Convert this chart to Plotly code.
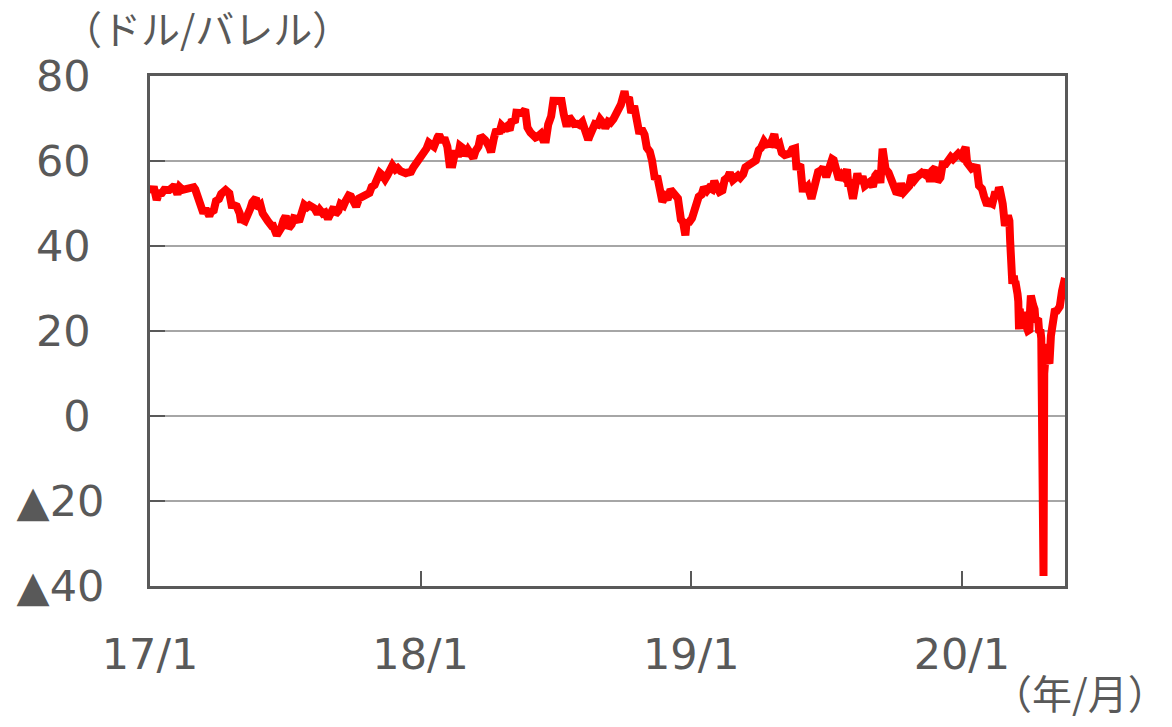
import plotly.graph_objects as go

# WTI crude oil futures price (USD/barrel), approximate readings
dates_2017 = ["2017-01-03","2017-01-06","2017-01-10","2017-01-13","2017-01-17","2017-01-20","2017-01-24","2017-01-27",
"2017-02-01","2017-02-03","2017-02-07","2017-02-10","2017-02-14","2017-02-17","2017-02-22","2017-02-24",
"2017-03-01","2017-03-03","2017-03-08","2017-03-10","2017-03-14","2017-03-17","2017-03-22","2017-03-24","2017-03-28","2017-03-31",
"2017-04-04","2017-04-07","2017-04-12","2017-04-13","2017-04-18","2017-04-21","2017-04-25","2017-04-28",
"2017-05-02","2017-05-04","2017-05-05","2017-05-09","2017-05-12","2017-05-16","2017-05-19","2017-05-24","2017-05-25","2017-05-30",
"2017-06-02","2017-06-07","2017-06-09","2017-06-14","2017-06-16","2017-06-21","2017-06-23","2017-06-27","2017-06-30",
"2017-07-03","2017-07-07","2017-07-11","2017-07-14","2017-07-18","2017-07-21","2017-07-25","2017-07-28",
"2017-08-01","2017-08-04","2017-08-08","2017-08-11","2017-08-15","2017-08-18","2017-08-22","2017-08-25","2017-08-29",
"2017-09-01","2017-09-06","2017-09-08","2017-09-12","2017-09-15","2017-09-19","2017-09-22","2017-09-26","2017-09-29",
"2017-10-03","2017-10-06","2017-10-10","2017-10-13","2017-10-17","2017-10-20","2017-10-24","2017-10-27","2017-10-31",
"2017-11-03","2017-11-07","2017-11-10","2017-11-14","2017-11-17","2017-11-22","2017-11-24","2017-11-28",
"2017-12-01","2017-12-05","2017-12-08","2017-12-12","2017-12-15","2017-12-19","2017-12-22","2017-12-27","2017-12-29"]
prices_2017 = [52.33,53.99,50.82,52.37,52.48,53.22,53.18,53.17,
53.88,53.83,52.17,53.86,53.20,53.40,53.59,53.99,
53.83,53.33,50.28,48.49,47.72,48.78,47.04,47.97,48.37,50.60,
51.03,52.24,53.11,53.18,52.41,49.62,49.56,49.33,
47.66,45.52,46.22,45.88,47.84,48.66,50.33,51.36,48.90,49.66,
47.66,45.72,45.83,44.73,44.74,42.53,43.01,44.24,46.04,
47.07,44.23,45.04,46.54,46.40,45.77,47.89,49.71,
49.16,49.58,49.17,48.82,47.55,48.51,47.64,47.87,46.44,
47.29,49.16,47.48,48.23,49.89,49.48,50.66,51.88,51.67,
50.42,49.29,51.21,51.45,51.88,51.84,52.47,53.90,54.38,
55.64,57.20,56.74,55.70,56.55,58.02,58.95,57.99,
58.36,57.62,57.36,57.14,57.30,57.46,58.47,59.64,60.42]

dates_2018 = ["2018-01-03","2018-01-05","2018-01-09","2018-01-12","2018-01-16","2018-01-19","2018-01-24","2018-01-26","2018-01-30",
"2018-02-02","2018-02-06","2018-02-09","2018-02-13","2018-02-16","2018-02-21","2018-02-23","2018-02-27",
"2018-03-02","2018-03-06","2018-03-09","2018-03-13","2018-03-16","2018-03-20","2018-03-23","2018-03-27","2018-03-29",
"2018-04-03","2018-04-06","2018-04-10","2018-04-13","2018-04-17","2018-04-20","2018-04-24","2018-04-27",
"2018-05-01","2018-05-04","2018-05-08","2018-05-10","2018-05-15","2018-05-18","2018-05-22","2018-05-25","2018-05-29",
"2018-06-01","2018-06-05","2018-06-08","2018-06-12","2018-06-15","2018-06-19","2018-06-22","2018-06-26","2018-06-29",
"2018-07-03","2018-07-06","2018-07-10","2018-07-13","2018-07-17","2018-07-20","2018-07-24","2018-07-27","2018-07-31",
"2018-08-03","2018-08-07","2018-08-10","2018-08-15","2018-08-17","2018-08-21","2018-08-24","2018-08-28","2018-08-31",
"2018-09-05","2018-09-07","2018-09-11","2018-09-14","2018-09-18","2018-09-21","2018-09-25","2018-09-28",
"2018-10-03","2018-10-05","2018-10-09","2018-10-12","2018-10-16","2018-10-19","2018-10-23","2018-10-26","2018-10-30",
"2018-11-02","2018-11-06","2018-11-09","2018-11-13","2018-11-16","2018-11-20","2018-11-23","2018-11-27","2018-11-30",
"2018-12-04","2018-12-07","2018-12-11","2018-12-14","2018-12-18","2018-12-21","2018-12-24","2018-12-26","2018-12-28"]
prices_2018 = [61.63,61.44,62.96,64.30,63.73,63.37,65.61,66.14,64.50,
65.45,63.39,59.20,59.19,61.68,61.68,63.55,63.01,
61.25,62.60,62.04,60.71,62.34,63.40,65.88,65.55,64.94,
63.51,62.06,65.51,67.39,66.52,68.38,67.70,68.10,
67.25,69.72,69.06,71.36,71.31,71.28,72.13,67.88,66.73,
65.81,65.52,65.74,66.36,65.06,65.07,68.58,70.53,74.15,
74.14,73.80,74.11,71.01,68.08,70.46,69.52,68.69,68.76,
68.49,69.17,67.63,65.01,65.91,67.35,68.72,68.53,69.80,
68.72,67.75,69.25,68.99,69.85,70.78,72.28,73.25,
76.41,74.34,74.96,71.34,72.92,69.12,66.43,67.59,66.18,
63.14,62.21,60.19,55.69,56.46,53.43,50.42,51.56,50.93,
53.25,52.61,51.65,51.20,46.24,45.59,42.53,46.22,45.33]

dates_2019 = ["2019-01-02","2019-01-04","2019-01-08","2019-01-11","2019-01-15","2019-01-18","2019-01-22","2019-01-25","2019-01-29",
"2019-02-01","2019-02-05","2019-02-08","2019-02-12","2019-02-15","2019-02-19","2019-02-22","2019-02-26",
"2019-03-01","2019-03-05","2019-03-08","2019-03-12","2019-03-15","2019-03-19","2019-03-22","2019-03-26","2019-03-29",
"2019-04-02","2019-04-05","2019-04-09","2019-04-12","2019-04-16","2019-04-18","2019-04-23","2019-04-26","2019-04-30",
"2019-05-03","2019-05-07","2019-05-10","2019-05-14","2019-05-17","2019-05-21","2019-05-23","2019-05-24","2019-05-28","2019-05-31",
"2019-06-04","2019-06-07","2019-06-12","2019-06-14","2019-06-18","2019-06-21","2019-06-25","2019-06-28",
"2019-07-02","2019-07-05","2019-07-10","2019-07-12","2019-07-16","2019-07-19","2019-07-23","2019-07-26","2019-07-30",
"2019-08-01","2019-08-02","2019-08-07","2019-08-09","2019-08-13","2019-08-16","2019-08-20","2019-08-23","2019-08-27","2019-08-30",
"2019-09-03","2019-09-06","2019-09-10","2019-09-13","2019-09-16","2019-09-18","2019-09-20","2019-09-24","2019-09-27",
"2019-10-01","2019-10-04","2019-10-08","2019-10-11","2019-10-15","2019-10-18","2019-10-22","2019-10-25","2019-10-29",
"2019-11-01","2019-11-05","2019-11-08","2019-11-12","2019-11-15","2019-11-19","2019-11-22","2019-11-26","2019-11-29",
"2019-12-03","2019-12-06","2019-12-10","2019-12-13","2019-12-17","2019-12-20","2019-12-24","2019-12-27","2019-12-31"]
prices_2019 = [46.54,47.96,49.78,51.59,52.11,53.80,53.01,53.69,53.31,
55.26,53.66,52.72,53.10,55.59,56.09,57.26,55.50,
55.80,56.56,56.07,56.87,58.52,59.03,59.04,59.94,60.14,
62.58,63.08,64.61,63.89,64.05,64.00,66.30,63.30,63.91,
61.94,61.40,61.66,61.78,62.76,62.99,57.91,58.63,59.14,53.50,
53.48,54.02,51.14,52.51,53.90,57.43,57.83,58.47,
56.25,57.51,60.43,60.21,57.62,55.63,56.77,56.20,58.05,
53.95,55.66,51.09,54.50,57.10,54.87,56.34,54.17,54.93,55.10,
53.94,56.52,57.40,54.85,62.90,58.11,58.09,57.29,55.91,
53.62,52.81,52.63,54.70,52.81,53.78,54.16,56.66,55.54,
56.20,57.23,57.24,56.80,57.72,55.21,57.77,58.41,55.17,
56.10,59.20,59.24,60.07,60.94,60.44,61.11,61.72,61.06]

dates_2020 = ["2020-01-03","2020-01-06","2020-01-08","2020-01-10","2020-01-14","2020-01-17","2020-01-21","2020-01-24","2020-01-28","2020-01-31",
"2020-02-04","2020-02-07","2020-02-11","2020-02-14","2020-02-18","2020-02-20","2020-02-21","2020-02-25","2020-02-28",
"2020-03-03","2020-03-05","2020-03-06","2020-03-09","2020-03-11","2020-03-12","2020-03-13","2020-03-16","2020-03-17","2020-03-18",
"2020-03-19","2020-03-20","2020-03-23","2020-03-25","2020-03-27","2020-03-30",
"2020-04-01","2020-04-02","2020-04-03","2020-04-06","2020-04-08","2020-04-09","2020-04-13","2020-04-14","2020-04-16","2020-04-17",
"2020-04-20","2020-04-21","2020-04-22","2020-04-23","2020-04-24","2020-04-27","2020-04-28","2020-04-30",
"2020-05-01","2020-05-05","2020-05-08","2020-05-12","2020-05-15","2020-05-18","2020-05-19"]
prices_2020 = [63.05,63.27,59.61,59.04,58.23,58.54,58.38,54.19,53.48,51.56,
49.61,50.32,49.94,52.05,52.05,53.78,53.38,49.90,44.76,
47.18,45.90,41.28,31.13,32.98,31.50,31.73,28.70,26.95,20.37,
25.22,22.43,23.36,24.49,21.51,20.09,
20.31,25.32,28.34,26.08,25.09,22.76,22.41,20.11,19.87,18.27,
-37.63,10.01,13.78,16.50,16.94,12.78,12.34,18.84,
19.78,24.56,24.74,25.78,29.43,31.82,32.50]

x_tick_vals = ["2017-01-01", "2018-01-01", "2019-01-01", "2020-01-01"]
x_tick_text = ["17/1", "18/1", "19/1", "20/1"]
y_tick_vals = [-40, -20, 0, 20, 40, 60, 80]
y_tick_text = ["▲40", "▲20", "0\u00a0", "20\u00a0", "40\u00a0", "60\u00a0", "80\u00a0"]
y_unit = "（ドル/バレル）"
x_unit = "（年/月）"

dates = dates_2017 + dates_2018 + dates_2019 + dates_2020
prices = prices_2017 + prices_2018 + prices_2019 + prices_2020

GRAY = "#595959"
NUM_FONT = "DejaVu Sans"
JP_FONT = "Noto Sans CJK JP"

W, H = 1172, 727
PL, PR, PT, PB = 150, 1065, 76, 586  # plot-area edges in pixels

fig = go.Figure()
fig.add_trace(go.Scatter(
    x=dates, y=prices, mode="lines",
    line=dict(color="#FF0000", width=8),
    showlegend=False, hoverinfo="skip",
))

def px(xw):
    return (xw - PL) / (PR - PL)

def py(yw):
    return (PB - yw) / (PB - PT)

fig.update_layout(
    width=W, height=H,
    margin=dict(l=PL, r=W - PR, t=PT, b=H - PB, pad=0),
    paper_bgcolor="white", plot_bgcolor="white",
    xaxis=dict(
        type="date", range=["2017-01-01", "2020-05-19"],
        tickvals=x_tick_vals, ticktext=x_tick_text,
        ticks="inside", ticklen=15, tickwidth=2, tickcolor=GRAY,
        showline=True, mirror=True, linecolor=GRAY, linewidth=3,
        showgrid=False, zeroline=False,
        tickfont=dict(family=NUM_FONT, size=43, color=GRAY),
        ticklabelstandoff=28,
    ),
    yaxis=dict(
        range=[-40, 80],
        tickvals=y_tick_vals, ticktext=y_tick_text,
        ticks="inside", ticklen=15, tickwidth=2, tickcolor=GRAY,
        showline=True, mirror=True, linecolor=GRAY, linewidth=3,
        showgrid=True, gridcolor="#A6A6A6", gridwidth=2,
        zeroline=False,
        tickfont=dict(family=NUM_FONT, size=43, color=GRAY),
        ticklabelstandoff=34,
    ),
    annotations=[
        dict(text=y_unit, xref="paper", yref="paper",
             x=px(207), y=py(27),
             xanchor="center", yanchor="middle", showarrow=False,
             font=dict(family=JP_FONT, size=39, color=GRAY)),
        dict(text=x_unit, xref="paper", yref="paper",
             x=px(1170), y=py(692),
             xanchor="right", yanchor="middle", showarrow=False,
             font=dict(family=JP_FONT, size=40, color=GRAY)),
    ],
)

fig.write_html(
    "out.html",
    config={"displayModeBar": False, "staticPlot": True},
    post_script="document.body.style.margin='0px';document.body.style.overflow='hidden';",
)
